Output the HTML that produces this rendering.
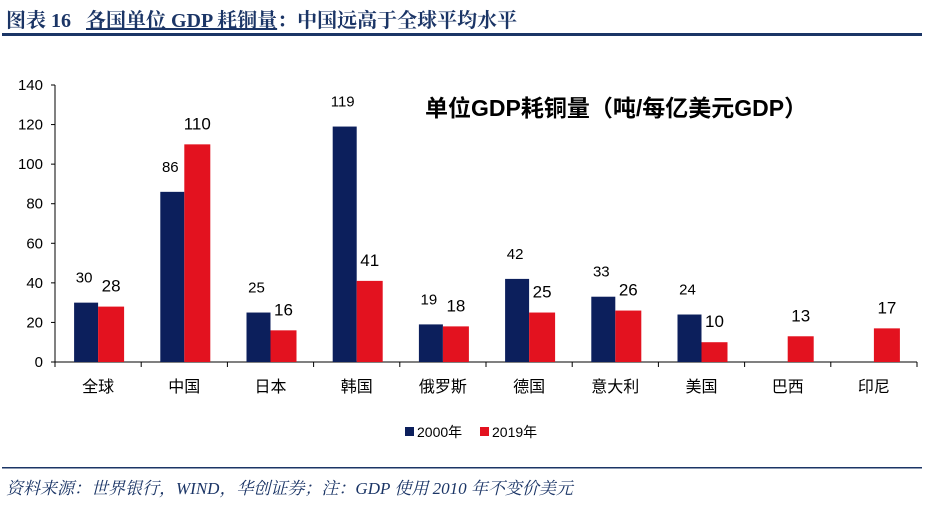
<!DOCTYPE html>
<html><head><meta charset="utf-8"><style>
body{margin:0;width:930px;height:504px;background:#fff;overflow:hidden;font-family:"Liberation Sans","Noto Sans CJK SC",sans-serif}
svg text{font-family:"Liberation Sans","Noto Sans CJK SC",sans-serif}
svg text.serif{font-family:"Liberation Serif","Noto Serif CJK SC",serif}
</style></head><body>
<svg id="c" width="930" height="504">
<text class="serif" x="6" y="27" font-weight="bold" font-size="20" fill="#1b3566">图表 16&#160;&#160;&#160;<tspan text-decoration="underline">各国单位 GDP 耗铜量</tspan>：中国远高于全球平均水平</text>
<rect x="2" y="33" width="920" height="3" fill="#1b3566"/>
<text x="425" y="116" font-size="23" font-weight="bold" fill="#000">单位GDP耗铜量（吨/每亿美元GDP）</text>
<g id="axes"></g><g id="bars"></g>
<rect x="405" y="427" width="9" height="9" fill="#0c1f5c"/>
<text x="417" y="437" font-size="14">2000年</text>
<rect x="480" y="427" width="9" height="9" fill="#e3121f"/>
<text x="492" y="437" font-size="14">2019年</text>
<rect x="2" y="467" width="920" height="1.5" fill="#1b3566"/>
<text class="serif" x="6" y="494" font-style="italic" font-size="17" fill="#1b3566">资料来源：世界银行，WIND，华创证券；注：GDP 使用 2010 年不变价美元</text>
</svg>
<script>
const categories=["全球","中国","日本","韩国","俄罗斯","德国","意大利","美国","巴西","印尼"];
const values2000=[30,86,25,119,19,42,33,24,null,null];
const values2019=[28,110,16,41,18,25,26,10,13,17];
const yTicks=[0,20,40,60,80,100,120,140];
const ns="http://www.w3.org/2000/svg";
const X0=55,BW=86.2,Y0=362,Y1=85,YMAX=140;
const y=v=>Y0-(Y0-Y1)*v/YMAX;
const xc=i=>X0+BW*(i+0.5);
function mk(p,tag,at,txt){const e=document.createElementNS(ns,tag);for(const k in at)e.setAttribute(k,at[k]);if(txt!=null)e.textContent=txt;p.appendChild(e);return e;}
const ax=document.getElementById('axes'),bg=document.getElementById('bars');
let e=mk(ax,'line',{x1:X0,y1:Y1,x2:X0,y2:Y0,stroke:'#000'});


e=mk(ax,'line',{x1:X0,y1:Y0,x2:X0+BW*10,y2:Y0,stroke:'#000'});


yTicks.forEach(t=>{
 e=mk(ax,'line',{x1:X0-4,y1:y(t),x2:X0,y2:y(t),stroke:'#000'});
 
 
 e=mk(ax,'text',{x:X0-12,y:y(t)+5,'text-anchor':'end','font-size':15},t);
 
 
});
for(let i=0;i<=10;i++){
 e=mk(ax,'line',{x1:X0+BW*i,y1:Y0,x2:X0+BW*i,y2:Y0+5,stroke:'#000'});
 
 
}
categories.forEach((c,i)=>{
 e=mk(ax,'text',{x:xc(i),y:Y0+30,'text-anchor':'middle','font-size':16},c);
 
 
 const a=values2000[i],b=values2019[i];
 if(a!=null){
  e=mk(bg,'rect',{x:xc(i)-24,y:y(a),width:24,height:Y0-y(a),fill:'#0c1f5c'});
  
  
  e=mk(bg,'text',{x:xc(i)-14,y:y(a)-20,'text-anchor':'middle','font-size':15},a);
  
  
 }
 if(b!=null){
  e=mk(bg,'rect',{x:xc(i),y:y(b),width:26,height:Y0-y(b),fill:'#e3121f'});
  
  
  e=mk(bg,'text',{x:xc(i)+13,y:y(b)-15,'text-anchor':'middle','font-size':17},b);
  
  
 }
});
</script>
</body></html>
